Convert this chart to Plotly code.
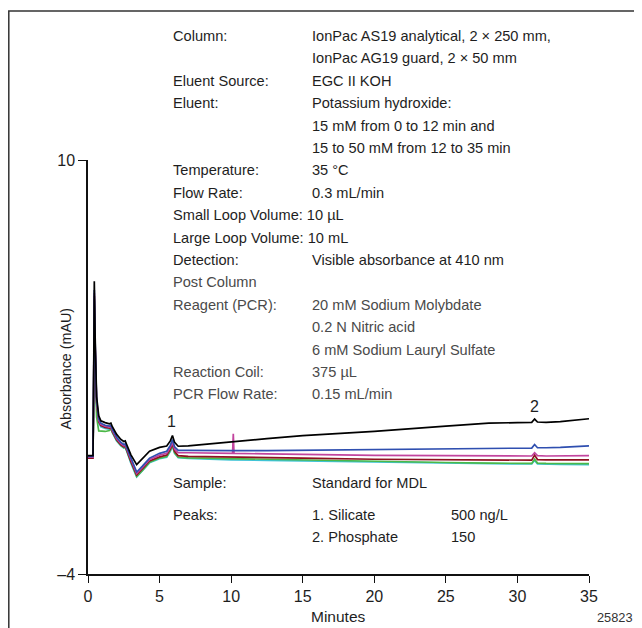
import plotly.graph_objects as go

# ---------------- data ----------------
time_min = [0, 0.35, 0.40, 0.44, 0.50, 0.60, 0.75, 0.90, 1.20, 1.50, 1.60, 1.70,
            2.00, 2.30, 2.50, 2.60, 2.70, 3.00, 3.40, 3.80, 4.30, 5.00, 5.50, 5.75,
            5.90, 6.05, 6.30, 7, 8, 10, 12.5, 15, 20, 25, 28, 30, 31.0, 31.2, 31.4,
            32, 33, 35]

black = [0.00, 0.00, 3.00, 5.90, 4.00, 2.00, 1.35, 1.18, 1.12, 1.08, 1.10, 0.98,
         0.72, 0.55, 0.48, 0.50, 0.38, 0.03, -0.30, -0.10, 0.15, 0.28, 0.33, 0.50,
         0.68, 0.45, 0.32, 0.33, 0.38, 0.47, 0.58, 0.68, 0.82, 1.00, 1.10, 1.12,
         1.13, 1.24, 1.14, 1.13, 1.15, 1.25]

blue = [-0.02, -0.02, 2.80, 5.60, 3.80, 1.90, 1.25, 1.10, 1.03, 1.00, 1.02, 0.90,
        0.62, 0.45, 0.38, 0.40, 0.28, -0.10, -0.55, -0.35, -0.08, 0.08, 0.15, 0.35,
        0.55, 0.30, 0.18, 0.18, 0.17, 0.17, 0.17, 0.18, 0.20, 0.22, 0.24, 0.25,
        0.26, 0.38, 0.27, 0.27, 0.28, 0.33]

magenta_time = [0, 0.35, 0.40, 0.44, 0.50, 0.60, 0.75, 0.90, 1.20, 1.50, 1.60, 1.70,
                2.00, 2.30, 2.50, 2.60, 2.70, 3.00, 3.40, 3.80, 4.30, 5.00, 5.50, 5.75,
                5.90, 6.05, 6.30, 7, 8, 10.1, 10.15, 10.2, 12.5, 15, 20, 25, 28, 30,
                31.0, 31.2, 31.4, 32, 33, 35]
magenta = [-0.05, -0.05, 2.70, 5.50, 3.70, 1.85, 1.20, 1.06, 1.00, 0.97, 0.99, 0.86,
           0.58, 0.41, 0.34, 0.36, 0.24, -0.15, -0.60, -0.40, -0.13, 0.02, 0.08, 0.28,
           0.45, 0.22, 0.10, 0.10, 0.10, 0.08, 0.74, 0.08, 0.06, 0.04, 0.01, 0.00,
           -0.01, -0.01, -0.01, 0.10, 0.00, -0.01, -0.01, 0.00]

dark_red = [-0.08, -0.08, 2.60, 5.40, 3.60, 1.80, 1.15, 1.02, 0.96, 0.93, 0.95, 0.82,
            0.54, 0.37, 0.30, 0.32, 0.20, -0.20, -0.65, -0.45, -0.18, -0.04, 0.02, 0.22,
            0.40, 0.15, 0.00, -0.02, -0.03, -0.04, -0.06, -0.08, -0.12, -0.14, -0.15,
            -0.15, -0.15, 0.02, -0.13, -0.14, -0.14, -0.14]

green = [-0.05, -0.05, 2.50, 5.30, 3.20, 1.30, 0.84, 0.83, 0.82, 0.85, 0.92, 0.80,
         0.52, 0.35, 0.28, 0.30, 0.18, -0.24, -0.70, -0.50, -0.22, -0.08, -0.03, 0.18,
         0.35, 0.10, -0.05, -0.07, -0.08, -0.10, -0.12, -0.15, -0.20, -0.23, -0.25,
         -0.25, -0.26, -0.12, -0.25, -0.26, -0.26, -0.27]

cyan = [-0.06, -0.06, 2.50, 5.25, 3.40, 1.70, 1.10, 0.98, 0.92, 0.89, 0.91, 0.78,
        0.50, 0.33, 0.26, 0.28, 0.16, -0.26, -0.72, -0.52, -0.24, -0.10, -0.05, 0.15,
        0.32, 0.08, -0.07, -0.09, -0.11, -0.14, -0.16, -0.18, -0.22, -0.25, -0.27,
        -0.28, -0.28, -0.16, -0.28, -0.29, -0.29, -0.30]

x_ticks = [0, 5, 10, 15, 20, 25, 30, 35]
y_ticks = [-4, 10]
y_tick_text = ["\u20134", "10"]

peak_labels = ["1", "2"]
peak_times = [5.85, 31.2]

cond_rows = [
    ("Column:", "IonPac AS19 analytical, 2 \u00d7 250 mm,"),
    ("", "IonPac AG19 guard, 2 \u00d7 50 mm"),
    ("Eluent Source:", "EGC II KOH"),
    ("Eluent:", "Potassium hydroxide:"),
    ("", "15 mM from 0 to 12 min and"),
    ("", "15 to 50 mM from 12 to 35 min"),
    ("Temperature:", "35 \u00b0C"),
    ("Flow Rate:", "0.3 mL/min"),
    ("Small Loop Volume: 10 \u00b5L", ""),
    ("Large Loop Volume: 10 mL", ""),
    ("Detection:", "Visible absorbance at 410 nm"),
    ("Post Column", ""),
    ("Reagent (PCR):", "20 mM Sodium Molybdate"),
    ("", "0.2 N Nitric acid"),
    ("", "6 mM Sodium Lauryl Sulfate"),
    ("Reaction Coil:", "375 \u00b5L"),
    ("PCR Flow Rate:", "0.15 mL/min"),
]

# ---------------- figure ----------------
FONT = "Liberation Sans, Arial, sans-serif"
W, H = 642, 628
OFF = 8                                # page offset of the figure (body margin)
L, R, T, B = 80, 61, 152, 62           # plot area = page 88..589 x 160..574
TXT = 14.6


def px(x):
    return (x - OFF - L) / (W - L - R)


def py(y):
    return (H - B - (y - OFF)) / (H - T - B)


fig = go.Figure()
series = [
    (time_min, cyan, "#3fc4d6"),
    (time_min, green, "#4cb848"),
    (time_min, dark_red, "#8e1020"),
    (magenta_time, magenta, "#c2449e"),
    (time_min, blue, "#2f4fb0"),
    (time_min, black, "#000000"),
]
for t, v, c in series:
    fig.add_trace(go.Scatter(x=t, y=v, mode="lines",
                             line=dict(color=c, width=1.7),
                             showlegend=False, hoverinfo="skip"))

ann = []
row_y0, row_dy = 36.0, 22.4
for i, (lab, val) in enumerate(cond_rows):
    col = "#4a4a4a" if i >= 11 else "#1e1e1e"
    y = py(row_y0 + row_dy * i)
    if lab:
        ann.append(dict(x=px(171), y=y, text=lab, xanchor="left", yanchor="middle",
                        font=dict(size=TXT, color=col)))
    if val:
        ann.append(dict(x=px(310), y=y, text=val, xanchor="left", yanchor="middle",
                        font=dict(size=TXT, color=col)))

bottom_rows = [
    (483, "Sample:", "Standard for MDL", ""),
    (515, "Peaks:", "1. Silicate", "500 ng/L"),
    (537, "", "2. Phosphate", "150"),
]
for yy, a, b, c in bottom_rows:
    for xx, txt in ((171, a), (310, b), (449, c)):
        if txt:
            ann.append(dict(x=px(xx), y=py(yy), text=txt, xanchor="left",
                            yanchor="middle", font=dict(size=TXT, color="#1e1e1e")))

for lab, tt, yy in zip(peak_labels, peak_times, [422, 406]):
    ann.append(dict(x=tt, xref="x", y=py(yy), text=lab, xanchor="center",
                    yanchor="middle", font=dict(size=16, color="#1e1e1e")))

ann.append(dict(x=px(65.5), y=py(369), text="Absorbance (mAU)", textangle=-90,
                xanchor="center", yanchor="middle", font=dict(size=14.3, color="#1e1e1e")))
ann.append(dict(x=px(338.5), y=py(616), text="Minutes", xanchor="center",
                yanchor="middle", font=dict(size=15.5, color="#1e1e1e")))
ann.append(dict(x=px(615), y=py(617), text="25823", xanchor="center",
                yanchor="middle", font=dict(size=12.8, color="#333333")))

for a in ann:
    a.setdefault("xref", "paper")
    a.setdefault("yref", "paper")
    a["showarrow"] = False

fig.update_layout(
    width=W, height=H,
    margin=dict(l=L, r=R, t=T, b=B, pad=0),
    paper_bgcolor="white", plot_bgcolor="white",
    font=dict(family=FONT, color="#1e1e1e"),
    annotations=ann,
    shapes=[dict(type="path", xref="paper", yref="paper",
                 path=f"M {px(8.8)},{py(700)} L {px(8.8)},{py(11)} L {px(700)},{py(11)}",
                 line=dict(color="#333333", width=1.5))],
    xaxis=dict(range=[0, 35], tickvals=x_ticks, ticks="outside", ticklen=7,
               tickwidth=1.2, tickcolor="#111", showline=True, linewidth=1.5,
               linecolor="#111", showgrid=False, zeroline=False,
               tickfont=dict(size=16, color="#1e1e1e")),
    yaxis=dict(range=[-4, 10], tickvals=y_ticks, ticktext=y_tick_text,
               ticks="outside", ticklen=8, tickwidth=1.2, tickcolor="#111",
               showline=True, linewidth=1.5, linecolor="#111", showgrid=False,
               zeroline=False, tickfont=dict(size=16, color="#1e1e1e")),
)

fig.write_html("out.html")
